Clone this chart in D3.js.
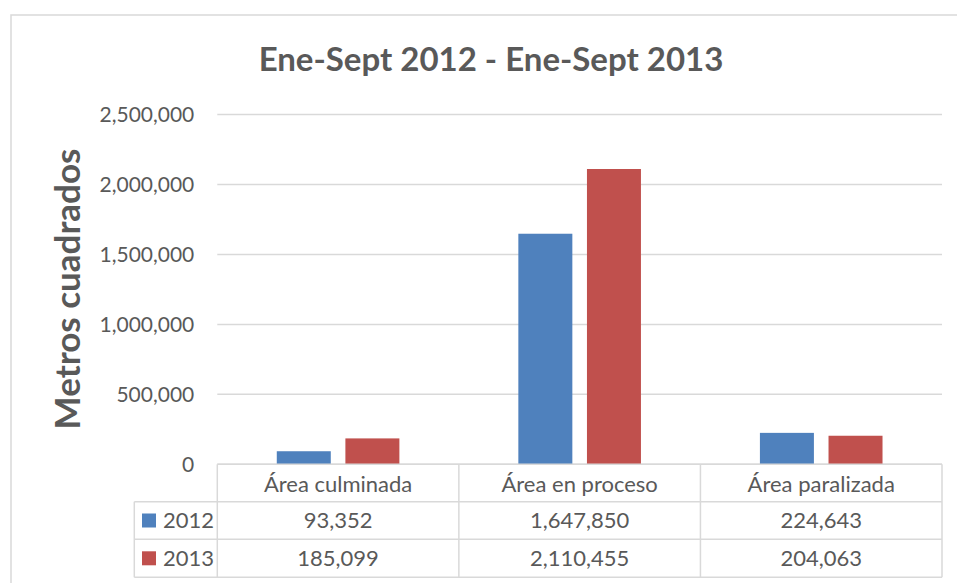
<!DOCTYPE html>
<html>
<head>
	<meta charset="UTF-8">
	<title>Ene-Sept 2012 - Ene-Sept 2013</title>
	<script src="https://cdn.jsdelivr.net/npm/d3@7"></script>
	<style>
		body { margin: 0; background: #fff; }
		text { font-family: Lato, "Open Sans", sans-serif; fill: #595959; }
	</style>
</head>
<body>
	<script type="text/javascript">
		// data
		var categories = ["Área culminada", "Área en proceso", "Área paralizada"];
		var series = ["2012", "2013"];
		var values2012 = [93352, 1647850, 224643];
		var values2013 = [185099, 2110455, 204063];
		var yTicks = [0, 500000, 1000000, 1500000, 2000000, 2500000];
		var colors = ["#4F81BD", "#C0504D"];

		var W = 957, H = 583;
		var svg = d3.select("body").append("svg")
			.attr("width", W)
			.attr("height", H);

		// chart frame
		svg.append("rect")
			.attr("x", 11).attr("y", 15)
			.attr("width", 960).attr("height", 600)
			.attr("fill", "#fff")
			.attr("stroke", "#d9d9d9")
			.attr("stroke-width", 1.5);

		var plotLeft = 217.3, plotRight = 942, plotTop = 114.5, plotBase = 464.3;

		var x = d3.scaleBand().domain(categories).range([plotLeft, plotRight]).padding(0);
		var xs = d3.scaleBand().domain(series).range([0, x.bandwidth()])
			.paddingInner(0.213).paddingOuter(0.867);
		var y = d3.scaleLinear().domain([0, 2500000]).range([plotBase, plotTop]);

		// gridlines
		svg.append("g").selectAll("line").data(yTicks).join("line")
			.attr("x1", plotLeft).attr("x2", plotRight)
			.attr("y1", d => y(d)).attr("y2", d => y(d))
			.attr("stroke", "#d9d9d9").attr("stroke-width", 1.5);

		// y axis labels
		var fmt = d3.format(",");
		var yAxis = d3.axisLeft(y).tickValues(yTicks).tickFormat(fmt).tickSize(0).tickPadding(23);
		var ga = svg.append("g").attr("transform", "translate(" + plotLeft + ",0)").call(yAxis);
		ga.select(".domain").remove();
		ga.selectAll("text")
			.style("font-family", "Lato, 'Open Sans', sans-serif")
			.style("font-size", "21px")
			.attr("fill", "#595959");

		// bars
		var rows = [values2012, values2013];
		series.forEach(function (s, si) {
			svg.append("g").selectAll("rect").data(categories).join("rect")
				.attr("x", d => x(d) + xs(s))
				.attr("width", xs.bandwidth())
				.attr("y", (d, i) => y(rows[si][i]))
				.attr("height", (d, i) => plotBase - y(rows[si][i]))
				.attr("fill", colors[si]);
		});

		// title
		svg.append("text")
			.attr("x", 491).attr("y", 71)
			.attr("text-anchor", "middle")
			.style("font-size", "33px")
			.style("font-weight", "bold")
			.text("Ene-Sept 2012 - Ene-Sept 2013");

		// y axis title
		svg.append("text")
			.attr("transform", "translate(80,289) rotate(-90)")
			.attr("text-anchor", "middle")
			.style("font-size", "35px")
			.style("font-weight", "bold")
			.text("Metros cuadrados");

		// data table
		var legendLeft = 134.3;
		var rowY = [plotBase, 501.7, 539.3, 577.3];
		var tbl = svg.append("g").attr("stroke", "#d9d9d9").attr("stroke-width", 1.5);
		tbl.append("line").attr("x1", plotLeft).attr("x2", plotRight).attr("y1", rowY[0]).attr("y2", rowY[0]);
		rowY.slice(1).forEach(function (yy) {
			tbl.append("line").attr("x1", legendLeft).attr("x2", plotRight).attr("y1", yy).attr("y2", yy);
		});
		tbl.append("line").attr("x1", legendLeft).attr("x2", legendLeft).attr("y1", rowY[1]).attr("y2", rowY[3]);
		categories.forEach(function (c) {
			tbl.append("line").attr("x1", x(c)).attr("x2", x(c)).attr("y1", rowY[0]).attr("y2", rowY[3]);
		});
		tbl.append("line").attr("x1", plotRight).attr("x2", plotRight).attr("y1", rowY[0]).attr("y2", rowY[3]);

		// header texts
		svg.append("g").selectAll("text").data(categories).join("text")
			.attr("x", d => x(d) + x.bandwidth() / 2)
			.attr("y", 491.5)
			.attr("text-anchor", "middle")
			.style("font-size", "22px")
			.text(d => d);

		// value rows
		rows.forEach(function (vals, si) {
			var cy = (rowY[si + 1] + rowY[si + 2]) / 2;
			svg.append("g").selectAll("text").data(vals).join("text")
				.attr("x", (d, i) => x(categories[i]) + x.bandwidth() / 2)
				.attr("y", cy + 7.5)
				.attr("text-anchor", "middle")
				.style("font-size", "22px")
				.text(d => fmt(d));
			svg.append("rect")
				.attr("x", 142).attr("y", cy - 7)
				.attr("width", 14).attr("height", 14)
				.attr("fill", colors[si]);
			svg.append("text")
				.attr("x", 163).attr("y", cy + 7.5)
				.style("font-size", "22px")
				.text(series[si]);
		});
	</script>
</body>
</html>
